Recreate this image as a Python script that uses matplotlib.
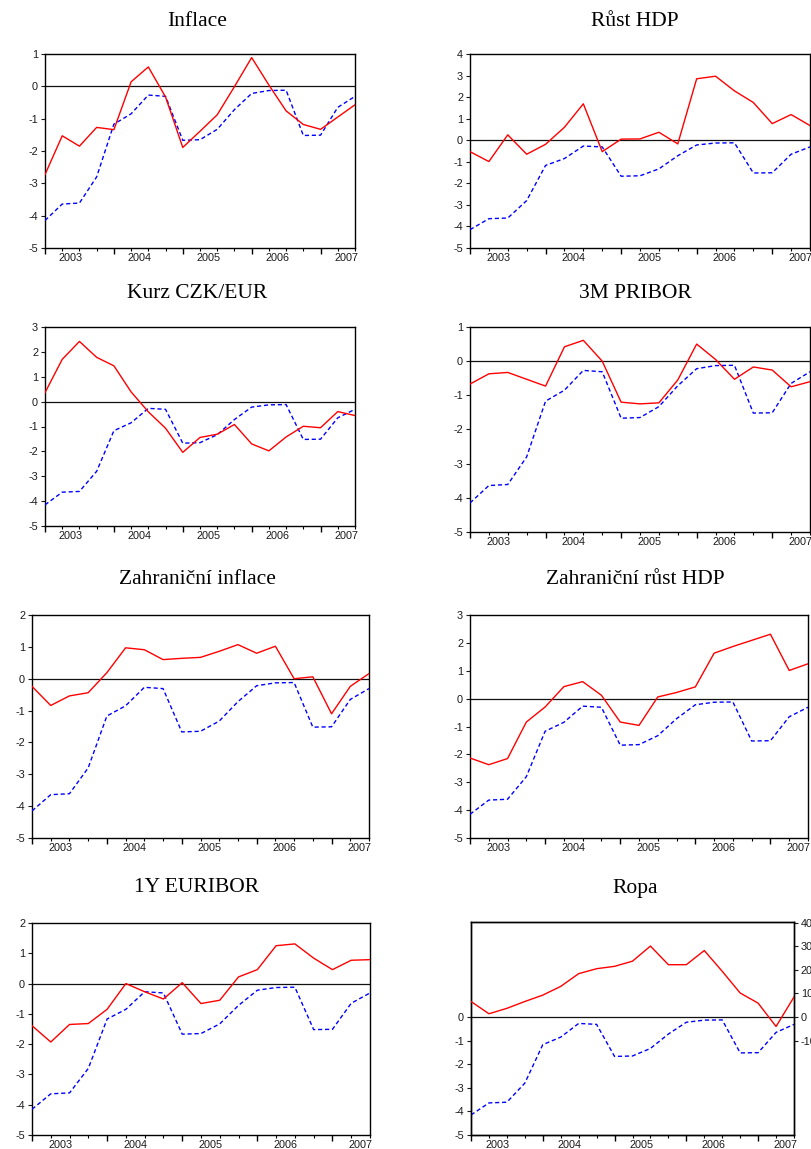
import matplotlib
matplotlib.use('Agg')
import matplotlib.pyplot as plt

plt.rcParams['axes.unicode_minus'] = False  # reference uses plain hyphens

# data: 19 quarterly points, same blue (dashed) series in every panel
quarters = list(range(19))
year_labels = ['2003', '2004', '2005', '2006', '2007']
year_label_pos = [1.5, 5.5, 9.5, 13.5, 17.5]

blue = [-4.15, -3.64, -3.61, -2.80, -1.17, -0.85, -0.27, -0.31, -1.67, -1.65,
        -1.33, -0.72, -0.22, -0.13, -0.12, -1.52, -1.51, -0.65, -0.31]

inflace = [-2.73, -1.53, -1.85, -1.27, -1.34, 0.14, 0.60, -0.33, -1.89, -1.39,
           -0.88, -0.01, 0.89, 0.04, -0.76, -1.18, -1.33, -0.95, -0.57]
rust_hdp = [-0.53, -0.99, 0.25, -0.65, -0.19, 0.60, 1.69, -0.53, 0.05, 0.06,
            0.37, -0.17, 2.85, 2.97, 2.29, 1.75, 0.77, 1.19, 0.68]
kurz = [0.36, 1.70, 2.42, 1.78, 1.44, 0.39, -0.41, -1.07, -2.04, -1.44,
        -1.31, -0.92, -1.70, -1.98, -1.42, -0.99, -1.05, -0.40, -0.56]
pribor = [-0.67, -0.37, -0.33, -0.53, -0.73, 0.42, 0.61, 0.00, -1.20, -1.25,
          -1.22, -0.55, 0.50, 0.05, -0.53, -0.17, -0.26, -0.75, -0.60]
zahr_infl = [-0.24, -0.84, -0.54, -0.44, 0.19, 0.97, 0.91, 0.60, 0.64, 0.67,
             0.86, 1.07, 0.80, 1.02, 0.00, 0.06, -1.10, -0.24, 0.16]
zahr_hdp = [-2.13, -2.37, -2.15, -0.84, -0.30, 0.43, 0.61, 0.12, -0.84, -0.96,
            0.06, 0.22, 0.42, 1.63, 1.87, 2.09, 2.31, 1.01, 1.25]
euribor = [-1.39, -1.93, -1.35, -1.32, -0.85, 0.00, -0.27, -0.51, 0.03, -0.66,
           -0.55, 0.22, 0.46, 1.25, 1.31, 0.84, 0.46, 0.77, 0.79]
ropa = [6.6, 1.4, 3.7, 6.6, 9.3, 13.0, 18.4, 20.5, 21.5, 23.7,
        30.1, 22.2, 22.2, 28.2, 19.4, 10.2, 5.9, -4.0, 8.5]

titles = ['Inflace', 'Růst HDP', 'Kurz CZK/EUR', '3M PRIBOR',
          'Zahraniční inflace', 'Zahraniční růst HDP', '1Y EURIBOR', 'Ropa']
reds = [inflace, rust_hdp, kurz, pribor, zahr_infl, zahr_hdp, euribor, None]
ytops = [1, 4, 3, 1, 2, 3, 2, 4.03]

W, H = 811, 1149
# axes boxes in pixels: left, top, right, bottom ; title centre x, y
boxes = [(45, 54, 355, 248), (470, 54, 810, 248),
         (45, 327, 355, 526), (470, 327, 810, 532),
         (32, 615, 369, 838), (470, 615, 808, 838),
         (32, 923, 370, 1135), (471, 922, 794, 1135)]
title_pos = [(197, 22), (635, 22), (197, 294), (635, 294),
             (197, 580), (635, 580), (197, 888), (635, 888)]

fig = plt.figure(figsize=(W / 100, H / 100), dpi=100)
fig.patch.set_facecolor('white')

tick_font = dict(family=['Liberation Sans', 'DejaVu Sans'], size=7.8)


def style_axis(ax):
    for s in ax.spines.values():
        s.set_linewidth(1.0)
        s.set_color('black')
    ax.tick_params(axis='y', direction='out', length=3, width=0.8, pad=2,
                   labelsize=7.8, colors='#1a1a1a')
    ax.tick_params(axis='x', which='major', direction='out', length=4, width=1.0)
    ax.tick_params(axis='x', which='minor', direction='out', length=2, width=0.8)
    ax.set_xticks([0, 4, 8, 12, 16])
    ax.set_xticklabels([])
    ax.set_xticks(quarters, minor=True)
    for lab in ax.get_yticklabels():
        lab.set_family(['Liberation Sans', 'DejaVu Sans'])
    for pos, lab in zip(year_label_pos, year_labels):
        ax.annotate(lab, xy=(pos, 0), xycoords=('data', 'axes fraction'),
                    xytext=(0, -10), textcoords='offset pixels',
                    ha='center', va='center', color='#1a1a1a', **tick_font)


for i in range(8):
    l, t, r, b = boxes[i]
    ax = fig.add_axes([l / W, 1 - b / H, (r - l) / W, (b - t) / H])
    ax.set_xlim(0, 18)
    ax.set_ylim(-5, ytops[i])
    if i < 7:
        ax.set_yticks(range(-5, int(ytops[i]) + 1))
    else:
        ax.set_yticks(range(-5, 1))
    ax.axhline(0, color='#111111', lw=0.9, zorder=1)
    ax.plot(quarters, blue, color='#0000ff', lw=1.0, ls=(0, (3, 2)), zorder=3)
    if reds[i] is not None:
        ax.plot(quarters, reds[i], color='#ff0000', lw=1.0, zorder=4)
    style_axis(ax)
    if i == 7:
        # oil price on its own right-hand scale
        ax2 = ax.twinx()
        ax2.set_ylim(-50, 40.3)
        ax2.set_yticks([-10, 0, 10, 20, 30, 40])
        ax2.plot(quarters, ropa, color='#ff0000', lw=1.0, zorder=4)
        ax2.tick_params(axis='y', direction='out', length=3, width=0.8, pad=2,
                        labelsize=7.8, colors='#1a1a1a')
        for lab in ax2.get_yticklabels():
            lab.set_family(['Liberation Sans', 'DejaVu Sans'])
        for s in ax2.spines.values():
            s.set_linewidth(1.0)
    tx, ty = title_pos[i]
    fig.text(tx / W, 1 - ty / H, titles[i], ha='center', va='center',
             family=['Liberation Serif', 'DejaVu Serif'], size=15.5)

fig.savefig('out.png', dpi=100)
